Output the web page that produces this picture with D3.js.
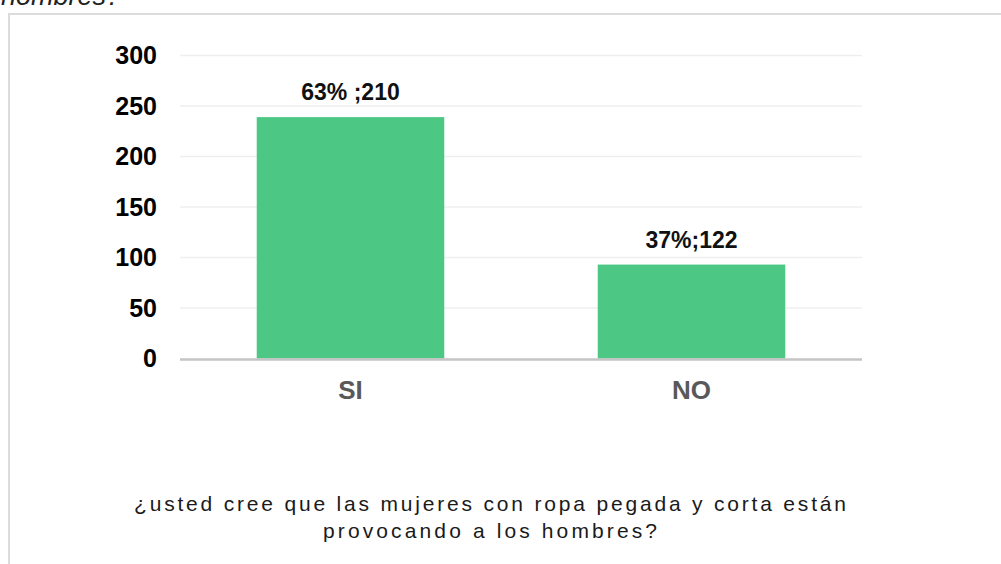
<!DOCTYPE html>
<html>
<head>
<meta charset="utf-8">
<script src="https://cdn.jsdelivr.net/npm/d3@7"></script>
<style>
    body { margin: 0; background: #fff; font-family: "Liberation Sans", Arial, sans-serif; }
    svg { display: block; }
</style>
</head>
<body>
<div id="chart"></div>
<script>
// Chart data
const categories = ["SI", "NO"];
const barValues = [239, 93];
const barLabels = ["63% ;210", "37%;122"];
const yTicks = [0, 50, 100, 150, 200, 250, 300];
const titleLines = [
    "¿usted cree que las mujeres con ropa pegada y corta están",
    "provocando a los hombres?"
];

const W = 1001, H = 564;
const margin = { top: 55.5, left: 180, right: 139, bottom: 205.5 };
const width = W - margin.left - margin.right;
const height = H - margin.top - margin.bottom;

const svg = d3.select("#chart").append("svg")
    .attr("width", W)
    .attr("height", H);

// cut-off question text from the page above
svg.append("text")
    .attr("x", 1)
    .attr("y", 5)
    .style("font-size", "27px")
    .style("font-style", "italic")
    .style("fill", "#222")
    .text("hombres?");

// box border (top and left only visible)
svg.append("path")
    .attr("d", `M9,${H} V14 H${W}`)
    .style("fill", "none")
    .style("stroke", "#dcdcdc")
    .style("stroke-width", 2);

const g = svg.append("g")
    .attr("transform", `translate(${margin.left},${margin.top})`);

const xScale = d3.scaleBand()
    .domain(categories)
    .range([0, width])
    .paddingInner(0.45)
    .paddingOuter(0.225);

const yScale = d3.scaleLinear()
    .domain([0, 300])
    .range([height, 0]);

// gridlines
g.append("g")
    .selectAll("line")
    .data(yTicks.filter(d => d > 0))
    .enter()
    .append("line")
    .attr("x1", 0)
    .attr("x2", width)
    .attr("y1", d => yScale(d))
    .attr("y2", d => yScale(d))
    .style("stroke", "#efefef")
    .style("stroke-width", 1.5);

// y axis labels
const yAxis = d3.axisLeft(yScale)
    .tickValues(yTicks)
    .tickSize(0)
    .tickPadding(23);

g.append("g")
    .attr("class", "y-axis")
    .call(yAxis)
    .call(ax => ax.select(".domain").remove())
    .selectAll("text")
    .style("font-family", "'Liberation Sans', Arial, sans-serif")
    .style("font-size", "25px")
    .style("font-weight", "bold")
    .style("fill", "#000");

// bars
g.selectAll(".bar")
    .data(categories)
    .enter()
    .append("rect")
    .attr("class", "bar")
    .attr("x", d => xScale(d))
    .attr("y", (d, i) => yScale(barValues[i]))
    .attr("width", xScale.bandwidth())
    .attr("height", (d, i) => height - yScale(barValues[i]))
    .style("fill", "#4cc784");

// baseline
g.append("line")
    .attr("x1", 0)
    .attr("x2", width)
    .attr("y1", height + 1)
    .attr("y2", height + 1)
    .style("stroke", "#c4c4c4")
    .style("stroke-width", 2.5);

// value labels
g.selectAll(".bar-label")
    .data(categories)
    .enter()
    .append("text")
    .attr("class", "bar-label")
    .attr("x", d => xScale(d) + xScale.bandwidth() / 2)
    .attr("y", (d, i) => yScale(barValues[i]) - 17)
    .attr("text-anchor", "middle")
    .style("font-size", "23px")
    .style("font-weight", "bold")
    .style("fill", "#111")
    .text((d, i) => barLabels[i]);

// x axis labels
const xAxis = d3.axisBottom(xScale).tickSize(0).tickPadding(22);
g.append("g")
    .attr("transform", `translate(0,${height})`)
    .call(xAxis)
    .call(ax => ax.select(".domain").remove())
    .selectAll("text")
    .style("font-family", "'Liberation Sans', Arial, sans-serif")
    .style("font-size", "26px")
    .style("font-weight", "bold")
    .style("fill", "#595959");

// bottom title, spread to the reference widths
const titleWidths = [712, 334];
svg.append("g")
    .selectAll("text")
    .data(titleLines)
    .enter()
    .append("text")
    .attr("x", 490)
    .attr("y", (d, i) => 511 + i * 27)
    .attr("text-anchor", "middle")
    .attr("textLength", (d, i) => titleWidths[i])
    .attr("lengthAdjust", "spacing")
    .style("font-size", "21px")
    .style("fill", "#1a1a1a")
    .text(d => d);
</script>
</body>
</html>
